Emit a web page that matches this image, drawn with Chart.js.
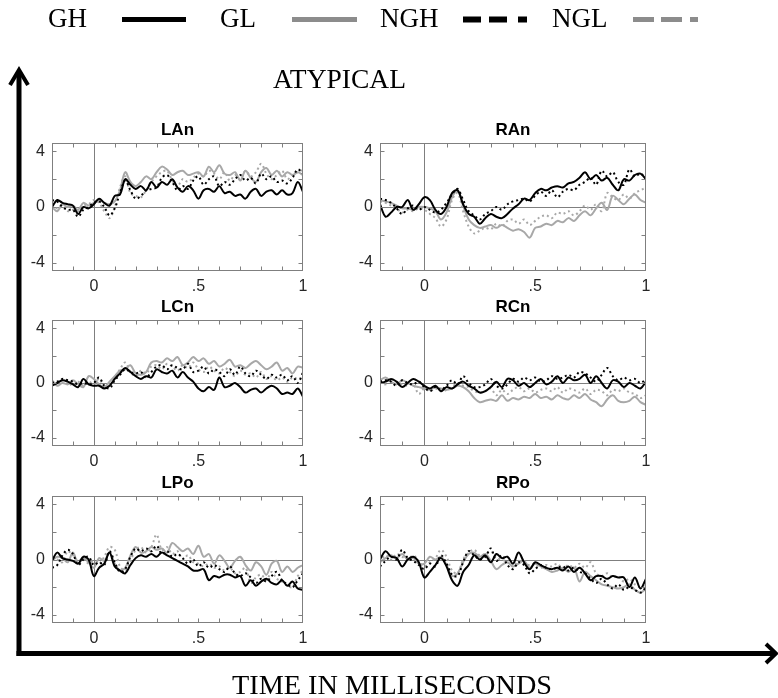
<!DOCTYPE html>
<html><head><meta charset="utf-8">
<script src="https://cdn.jsdelivr.net/npm/chart.js@4.4.1/dist/chart.umd.min.js"></script>
<style>
html,body{margin:0;padding:0;background:#fff;}
#wrap{position:relative;width:778px;height:698px;overflow:hidden;background:#fff;}
canvas.p{position:absolute;}
svg{position:absolute;left:0;top:0;}
</style></head><body>
<div id="wrap"></div>
<script>
// ---------- DATA ----------
const times = [-0.2,-0.175,-0.15,-0.125,-0.1,-0.075,-0.05,-0.025,0,0.025,0.05,0.075,0.1,0.125,0.15,0.175,0.2,0.225,0.25,0.275,0.3,0.325,0.35,0.375,0.4,0.425,0.45,0.475,0.5,0.525,0.55,0.575,0.6,0.625,0.65,0.675,0.7,0.725,0.75,0.775,0.8,0.825,0.85,0.875,0.9,0.925,0.95,0.975,1.0];
const seriesNames = ['GH','GL','NGH','NGL'];
const panelTitles = ['LAn','RAn','LCn','RCn','LPo','RPo'];
const xTicks = [0, 0.5, 1];
const xTickLabels = ['0', '.5', '1'];
const xMinorTicks = [-0.1,0,0.1,0.2,0.3,0.4,0.5,0.6,0.7,0.8,0.9];
const yTicks = [-4, 0, 4];
const yTickLabels = ['-4', '0', '4'];
const yMinorTicks = [-4,-2,0,2,4];

const LAn_GH  = [0.0,0.5,0.3,0.2,0.1,-0.5,0.0,-0.1,0.2,0.6, 0.3,0.1,0.8,0.9,2.0,1.6,1.3,1.5,1.2,1.8, 1.4,1.8,1.6,2.0,1.4,1.1,1.5,1.2,0.6,1.2, 1.3,1.1,1.5,1.0,1.1,0.8,0.9,0.6,1.1,1.3, 0.8,1.1,1.2,0.9,1.2,0.9,1.0,1.8,1.1];
const LAn_GL  = [0.0,-0.3,0.2,0.0,0.1,-0.2,0.3,0.1,0.3,0.5, 0.3,0.2,0.4,1.2,2.5,1.8,1.5,1.8,2.2,2.0, 2.5,2.9,2.7,2.3,2.5,2.6,2.3,2.4,2.5,2.2, 2.9,2.5,3.0,2.4,2.3,2.5,1.9,2.6,2.1,1.8, 2.5,2.8,2.3,2.6,2.2,2.5,2.3,2.5,2.3];
const LAn_NGH = [0.5,0.4,0.0,-0.2,-0.2,-0.7,-0.2,0.0,0.3,0.4, 0.0,-0.6,-0.1,1.0,1.9,1.2,0.6,0.8,1.2,1.3, 1.4,2.1,2.3,1.8,1.2,1.5,1.3,1.9,2.2,1.6, 2.0,2.2,1.5,1.8,1.6,2.0,2.3,1.9,2.1,1.7, 2.4,2.0,2.2,1.8,1.9,1.7,2.1,2.7,2.4];
const LAn_NGL = [0.2,-0.1,0.1,-0.3,-0.2,-0.3,0.1,0.2,0.5,0.3, -0.3,-0.8,0.0,1.4,2.2,1.0,0.8,0.7,1.2,1.8, 2.2,2.5,2.6,1.9,1.5,2.0,1.8,2.1,2.4,2.2, 2.6,2.4,2.0,2.5,1.9,2.3,2.0,2.6,2.2,2.5, 3.1,2.4,2.0,2.3,2.6,2.0,2.3,2.5,2.7];

const RAn_GH  = [0.2,-0.7,-0.4,0.0,0.0,0.5,-0.2,0.2,0.7,0.5, -0.2,-0.5,0.0,1.0,1.2,0.2,-0.5,-0.7,-1.2,-0.8, -0.5,-0.7,-0.8,-0.5,-0.1,0.2,0.6,0.5,1.0,1.3, 1.2,1.4,1.5,1.4,1.7,1.8,2.1,2.5,2.0,2.3, 1.9,2.1,1.6,1.2,2.0,1.9,2.3,2.4,2.0];
const RAn_GL  = [0.5,0.4,0.3,0.1,-0.1,-0.1,-0.2,0.0,0.0,-0.1, -0.3,-0.9,-0.4,0.7,1.2,0.1,-0.9,-1.3,-1.5,-1.4, -1.3,-1.5,-1.3,-1.5,-1.7,-1.6,-1.8,-2.2,-1.5,-1.4, -1.2,-1.3,-1.0,-1.1,-0.8,-1.0,-0.6,-0.3,-0.6,-0.1, 0.3,-0.2,0.8,0.5,0.2,0.6,0.9,0.5,0.3];
const RAn_NGH = [0.6,0.5,0.3,-0.1,-0.5,-0.1,0.1,-0.2,0.0,-0.2, -0.4,-0.2,0.3,0.9,1.3,0.5,-0.3,-0.6,-0.9,-0.5, -0.3,0.0,-0.2,0.2,0.4,0.5,0.6,0.4,0.8,1.1, 0.8,1.2,0.7,1.1,1.3,1.2,1.6,1.8,2.1,1.6, 2.6,2.2,2.5,1.8,1.6,2.7,2.2,2.4,2.0];
const RAn_NGL = [0.4,0.3,0.1,-0.1,-0.4,-0.2,-0.3,-0.1,-0.2,-0.5, -0.8,-1.4,-0.9,0.5,1.0,-0.3,-1.4,-1.9,-1.7,-1.5, -1.6,-1.2,-1.4,-1.0,-0.9,-1.2,-0.9,-1.3,-1.0,-0.7, -0.6,-0.8,-0.4,-0.5,-0.3,-0.6,-0.3,0.1,-0.2,0.2, -0.3,1.0,0.7,0.5,0.9,0.6,1.0,1.2,1.4];

const LCn_GH  = [-0.2,0.0,0.2,0.1,-0.1,-0.3,0.3,-0.1,-0.2,-0.2, -0.4,-0.2,0.3,0.7,1.1,0.8,0.5,0.3,0.5,0.4, 1.0,0.8,0.7,0.9,0.4,0.8,0.4,0.1,-0.4,-0.6, -0.3,-0.5,0.4,-0.3,-0.2,0.0,-0.3,-0.7,-0.5,-0.4, -0.7,-0.4,-0.2,-0.4,-0.8,-0.7,-0.8,-0.4,-1.0];
const LCn_GL  = [0.2,-0.2,0.0,-0.1,0.2,-0.1,-0.3,0.5,0.3,-0.1, -0.3,0.1,0.5,0.9,1.0,1.3,0.7,0.6,0.8,1.5, 1.6,1.5,1.8,1.6,1.9,1.3,1.5,1.9,1.6,1.8, 1.4,1.6,1.2,1.4,1.7,1.2,1.3,1.1,1.4,1.6, 1.3,1.0,1.2,1.5,0.9,1.1,0.7,1.2,1.1];
const LCn_NGH = [0.0,0.1,0.3,0.2,0.1,-0.1,0.0,-0.1,0.0,0.4, -0.2,-0.4,0.2,0.6,1.0,0.8,0.7,0.8,0.4,0.8, 1.2,1.3,1.0,1.3,1.1,1.0,1.4,0.8,0.9,1.2, 0.7,1.0,0.8,0.5,1.0,0.6,1.2,0.7,0.5,0.9, 0.6,0.3,0.6,0.4,0.6,0.2,0.5,0.0,0.8];
const LCn_NGL = [0.1,0.0,0.2,0.1,-0.2,0.1,-0.2,0.1,-0.1,0.3, -0.3,-0.2,0.4,1.0,1.5,0.8,0.5,0.9,0.7,1.2, 1.3,1.0,1.4,1.2,0.9,1.3,1.1,1.5,1.0,0.8, 1.2,0.9,0.7,1.1,0.8,0.5,0.9,0.6,0.7,0.4, 0.8,0.3,0.5,0.2,0.4,0.1,0.4,0.3,0.4];

const RCn_GH  = [0.0,0.1,0.3,0.1,-0.3,0.0,0.3,0.1,-0.2,-0.4, -0.2,-0.6,-0.3,-0.4,-0.1,0.1,-0.2,-0.4,-0.7,-0.6, -0.3,0.1,-0.3,0.3,0.2,-0.2,0.0,-0.3,0.0,0.3, -0.1,0.1,0.5,0.0,0.4,0.2,0.3,0.6,0.0,0.5, 0.0,-0.4,0.2,0.1,-0.3,0.0,-0.2,-0.4,0.1];
const RCn_GL  = [0.2,0.4,0.1,-0.1,0.2,0.0,-0.2,-0.3,-0.4,-0.5, -0.3,-0.4,-0.5,-0.4,-0.2,-0.3,-0.6,-1.1,-1.4,-1.3, -1.2,-1.3,-0.9,-1.3,-1.1,-1.2,-1.0,-1.1,-0.8,-1.1, -1.0,-1.2,-0.9,-1.1,-1.2,-0.9,-1.1,-0.8,-1.2,-1.4, -1.7,-1.2,-0.9,-1.3,-1.4,-1.3,-1.0,-1.4,-1.6];
const RCn_NGH = [0.1,0.2,0.1,-0.2,0.2,0.0,-0.1,0.1,-0.3,-0.6, -0.3,-0.5,-0.2,0.2,-0.1,0.5,0.0,-0.3,-0.3,-0.1, 0.3,-0.2,-0.4,-0.1,0.3,0.1,0.4,0.2,0.4,0.1, 0.2,0.5,0.3,0.4,0.6,0.4,0.8,0.7,0.4,0.1, 0.6,1.1,0.5,0.2,0.4,0.2,0.3,0.0,0.3];
const RCn_NGL = [0.1,-0.1,0.3,0.0,-0.1,-0.2,-0.1,-0.8,-0.4,-0.6, -0.4,-0.6,-0.5,-0.3,0.0,-0.2,-0.3,-0.6,-0.7,-0.6, -0.4,-0.9,-0.5,-0.8,-0.5,-0.3,-0.6,-0.4,-0.7,-0.5, -0.4,-0.6,-0.3,-0.7,-0.4,-0.5,-0.7,-0.4,-0.8,-0.5, -0.6,-0.9,-0.5,-0.6,-0.4,-0.7,-0.8,-1.1,-0.9];

const LPo_GH  = [-0.1,0.5,0.1,0.0,-0.1,-0.3,0.2,0.0,-1.2,-0.6, -0.3,0.5,-0.5,-0.8,-1.0,-0.4,0.1,0.3,0.2,0.4, 0.2,0.5,0.3,0.1,-0.1,-0.3,-0.5,-0.8,-0.8,-0.7, -1.5,-1.2,-1.3,-1.1,-1.1,-1.3,-1.2,-1.9,-1.5,-1.9, -1.6,-1.4,-1.7,-1.8,-1.5,-1.9,-1.6,-2.1,-2.2];
const LPo_GL  = [-0.1,0.2,0.1,-0.2,0.5,-0.3,0.1,-0.2,-0.6,0.1, -0.1,0.5,-0.3,-0.8,-0.6,0.3,0.9,0.5,0.6,0.9, 0.7,0.8,0.5,1.2,0.9,0.6,0.8,0.4,1.0,0.2, 0.4,-0.3,0.3,-0.1,-0.6,-0.1,0.2,-0.4,-0.8,-0.2, -0.5,-1.1,-0.3,-0.1,-0.9,-0.5,-0.9,-0.6,-0.4];
const LPo_NGH = [-0.6,-0.4,0.3,0.7,0.4,-0.4,0.0,0.2,-0.4,-0.2, -0.4,0.6,-0.2,-0.9,-0.7,0.2,0.8,0.6,0.8,0.6, 1.0,0.4,0.6,0.2,0.4,0.1,-0.3,0.0,-0.5,-0.2, -0.6,-0.4,-0.7,-0.9,-0.5,-1.0,-1.2,-1.0,-1.3,-1.7, -1.4,-1.6,-1.2,-0.9,-1.5,-1.8,-2.0,-1.5,-1.0];
const LPo_NGL = [0.1,0.0,-0.2,0.6,0.3,-0.1,0.1,-0.3,-0.1,-0.3, 0.2,0.9,0.7,-0.5,-0.8,-0.1,0.7,0.9,0.5,0.9, 1.8,0.7,0.9,0.4,0.6,0.0,0.3,-0.2,-0.3,-0.5, -0.3,-0.6,-0.5,-0.8,-0.6,-1.0,-0.9,-0.6,-1.7,-1.3, -1.1,-1.5,-0.9,-1.4,-1.6,-1.9,-2.0,-1.2,-0.8];

const RPo_GH  = [0.0,0.6,0.2,0.1,-0.5,0.0,0.2,-0.2,-1.3,-0.9, -0.4,0.1,-0.5,-1.5,-1.9,-0.9,-0.4,0.3,0.0,0.3, -0.2,0.4,0.1,0.2,-0.3,0.5,-0.2,-0.7,-0.2,-0.4, -0.6,-0.7,-0.6,-0.8,-0.5,-0.9,-0.6,-1.0,-1.5,-1.2, -1.2,-1.4,-1.2,-1.3,-1.3,-2.0,-1.3,-2.1,-1.4];
const RPo_GL  = [-0.2,0.1,0.3,0.1,0.4,0.0,0.1,-0.3,-0.3,0.2, 0.0,0.2,-0.4,-1.2,-1.0,-0.2,0.4,0.5,0.2,0.4, -0.1,-0.7,-0.4,-0.2,-0.5,-0.3,-0.1,-0.6,-0.3,-0.5, -0.7,-0.9,-0.8,-0.6,-0.9,-0.6,-1.6,-0.9,-1.2,-1.5, -1.8,-1.9,-2.0,-2.1,-2.0,-1.8,-2.2,-2.4,-2.1];
const RPo_NGH = [-0.5,-0.1,0.2,0.0,0.7,0.1,-0.1,-0.4,-0.7,-0.3, -0.5,0.3,-0.3,-1.1,-1.2,-0.2,0.6,0.3,0.0,0.2, 0.8,-0.1,0.3,-0.4,-0.7,-0.2,-0.4,-1.0,-0.7,-0.4, -0.6,-0.7,-0.6,-0.5,-0.8,-0.6,-0.9,-1.0,-1.4,-1.7, -1.4,-1.8,-2.1,-1.8,-2.2,-2.0,-2.2,-2.4,-2.0];
const RPo_NGL = [-0.2,0.3,0.0,0.4,0.2,0.0,0.3,-0.1,-0.5,-0.2, 0.1,0.7,0.2,-0.8,-1.0,0.0,0.5,0.7,0.3,0.4, 0.6,0.1,0.0,-0.2,-0.5,-0.1,-0.3,-0.4,-0.3,-0.6, -0.4,-0.5,-0.3,-0.7,-0.4,-0.6,-0.3,-0.6,-0.2,-1.0, -1.2,-1.0,-1.3,-1.2,-1.6,-1.4,-1.8,-2.0,-1.8];

// ---------- LAYOUT / STYLE ----------
const panelData = {
  LAn:[LAn_GH,LAn_GL,LAn_NGH,LAn_NGL], RAn:[RAn_GH,RAn_GL,RAn_NGH,RAn_NGL],
  LCn:[LCn_GH,LCn_GL,LCn_NGH,LCn_NGL], RCn:[RCn_GH,RCn_GL,RCn_NGH,RCn_NGL],
  LPo:[LPo_GH,LPo_GL,LPo_NGH,LPo_NGL], RPo:[RPo_GH,RPo_GL,RPo_NGH,RPo_NGL]
};
const plotBoxes = {
  LAn:[52,143,251,128], RAn:[380,143,266,128],
  LCn:[52,320,251,126], RCn:[380,320,266,126],
  LPo:[52,496,251,127], RPo:[380,496,266,127]
};
const styles = {
  GH:{color:'#000000', dash:[]},
  GL:{color:'#a8a8a8', dash:[]},
  NGH:{color:'#000000', dash:[2,3]},
  NGL:{color:'#a8a8a8', dash:[2,3]}
};
const Y_MIN=-4.6, Y_MAX=4.6;
const PADL=40, PADT=26, PADR=12, PADB=24;
const boxColor='#7f7f7f';
const tickFont={size:16, family:'"Liberation Sans", Arial, sans-serif'};

const framePlugin = {
  id:'frame',
  beforeDatasetsDraw(chart){
    const {ctx, chartArea:a, scales:{x,y}} = chart;
    ctx.save();
    ctx.strokeStyle=boxColor; ctx.lineWidth=1;
    const x0=Math.round(x.getPixelForValue(0))+0.5, y0=Math.round(y.getPixelForValue(0))+0.5;
    ctx.beginPath(); ctx.moveTo(x0,a.top); ctx.lineTo(x0,a.bottom);
    ctx.moveTo(a.left,y0); ctx.lineTo(a.right,y0); ctx.stroke();
    ctx.restore();
  },
  afterDatasetsDraw(chart){
    const {ctx, chartArea:a, scales:{x,y}} = chart;
    ctx.save();
    ctx.strokeStyle=boxColor; ctx.lineWidth=1;
    const L=Math.round(a.left)+0.5, R=Math.round(a.right)-0.5, T=Math.round(a.top)+0.5, B=Math.round(a.bottom)-0.5;
    ctx.strokeRect(L,T,R-L,B-T);
    ctx.beginPath();
    xMinorTicks.forEach(v=>{const px=Math.round(x.getPixelForValue(v))+0.5; ctx.moveTo(px,B); ctx.lineTo(px,B-4); ctx.moveTo(px,T); ctx.lineTo(px,T+4);});
    yMinorTicks.forEach(v=>{const py=Math.round(y.getPixelForValue(v))+0.5; ctx.moveTo(L,py); ctx.lineTo(L+4,py); ctx.moveTo(R,py); ctx.lineTo(R-4,py);});
    ctx.stroke();
    ctx.fillStyle='#000'; ctx.font='bold 17px "Liberation Sans", Arial, sans-serif';
    ctx.textAlign='center'; ctx.textBaseline='alphabetic';
    ctx.fillText(chart.options.plugins.frame.title, (a.left+a.right)/2, a.top-8);
    ctx.restore();
  }
};

const wrap=document.getElementById('wrap');
panelTitles.forEach(name=>{
  const [pl,pt,pw,ph]=plotBoxes[name];
  const cv=document.createElement('canvas');
  cv.className='p';
  cv.width=pw+PADL+PADR; cv.height=ph+PADT+PADB;
  cv.style.left=(pl-PADL)+'px'; cv.style.top=(pt-PADT)+'px';
  cv.style.width=cv.width+'px'; cv.style.height=cv.height+'px';
  wrap.appendChild(cv);
  const vals=panelData[name];
  const order=[0,2,1,3];
  const datasets=order.map(i=>{
    const s=styles[seriesNames[i]];
    return {label:seriesNames[i], data:times.map((t,k)=>({x:t,y:vals[i][k]})),
      borderColor:s.color, borderDash:s.dash, borderWidth:2, pointRadius:0, tension:0.35, fill:false};
  });
  new Chart(cv,{
    type:'line',
    data:{datasets},
    options:{
      responsive:false, animation:false, devicePixelRatio:1,
      layout:{padding:{top:PADT,right:PADR,left:0,bottom:0}},
      plugins:{legend:{display:false}, tooltip:{enabled:false}, frame:{title:name}},
      scales:{
        x:{type:'linear', min:-0.2, max:1,
          afterBuildTicks:s=>{s.ticks=xTicks.map(v=>({value:v}));},
          afterFit:s=>{s.height=PADB;},
          grid:{display:false, drawTicks:false}, border:{display:false},
          ticks:{autoSkip:false, maxRotation:0, padding:6, color:'#262626', font:tickFont,
            callback:(v)=>{const i=xTicks.indexOf(v); return i>=0?xTickLabels[i]:'';}}},
        y:{type:'linear', min:Y_MIN, max:Y_MAX,
          afterBuildTicks:s=>{s.ticks=yTicks.map(v=>({value:v}));},
          afterFit:s=>{s.width=PADL;},
          grid:{display:false, drawTicks:false}, border:{display:false},
          ticks:{autoSkip:false, padding:7, color:'#262626', font:tickFont,
            callback:(v)=>{const i=yTicks.indexOf(v); return i>=0?yTickLabels[i]:'';}}}
      }
    },
    plugins:[framePlugin]
  });
});

// ---------- OVERLAY (legend, arrows, labels) ----------
const svgNS='http://www.w3.org/2000/svg';
const svg=document.createElementNS(svgNS,'svg');
svg.setAttribute('width','778'); svg.setAttribute('height','698');
const serif='"Liberation Serif","Times New Roman",serif';
function el(tag,attrs,text){const e=document.createElementNS(svgNS,tag);for(const k in attrs)e.setAttribute(k,attrs[k]);if(text!==undefined)e.textContent=text;svg.appendChild(e);return e;}
const legendTextX=[48,220,380,552];
seriesNames.forEach((n,i)=>el('text',{x:legendTextX[i],y:27,'font-family':serif,'font-size':27,fill:'#000'},n));
el('line',{x1:122,y1:19.5,x2:186,y2:19.5,stroke:'#000','stroke-width':5});
el('line',{x1:292,y1:19.5,x2:357,y2:19.5,stroke:'#8c8c8c','stroke-width':5});
[[463,481],[489,507],[518,527]].forEach(([a,b])=>el('line',{x1:a,y1:19.5,x2:b,y2:19.5,stroke:'#000','stroke-width':6}));
[[633,654],[661,682],[690,698]].forEach(([a,b])=>el('line',{x1:a,y1:19.5,x2:b,y2:19.5,stroke:'#8c8c8c','stroke-width':5}));
el('text',{x:273,y:88,'font-family':serif,'font-size':27,fill:'#000',textLength:133,lengthAdjust:'spacingAndGlyphs'},'ATYPICAL');
el('text',{x:232,y:694,'font-family':serif,'font-size':28,fill:'#000',textLength:320,lengthAdjust:'spacingAndGlyphs'},'TIME IN MILLISECONDS');
// arrows
el('line',{x1:19,y1:71,x2:19,y2:656,stroke:'#000','stroke-width':5});
el('polyline',{points:'10,85 19,70 28,85',fill:'none',stroke:'#000','stroke-width':4});
el('line',{x1:16.5,y1:653.5,x2:775,y2:653.5,stroke:'#000','stroke-width':5});
el('polyline',{points:'766,644 776,653.5 766,663',fill:'none',stroke:'#000','stroke-width':4});
wrap.appendChild(svg);
</script>
</body></html>
